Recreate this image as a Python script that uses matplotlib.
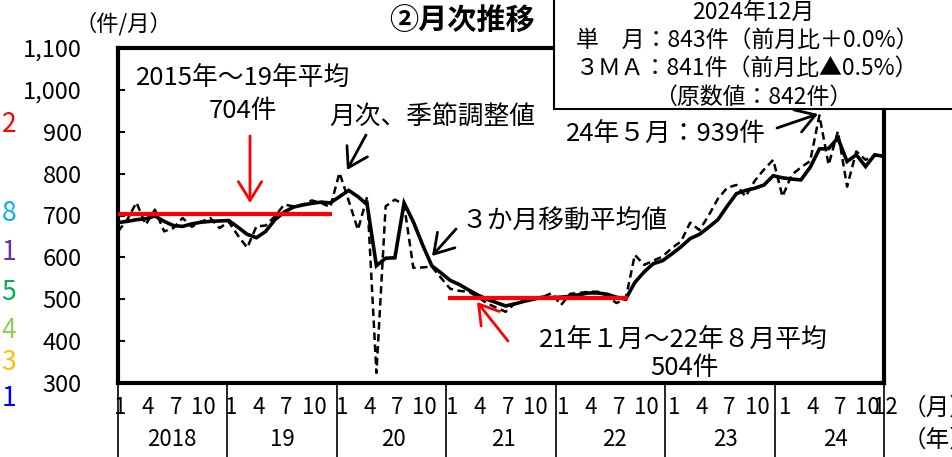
import numpy as np
import matplotlib
matplotlib.use('Agg')
import matplotlib.pyplot as plt
from matplotlib.patches import Rectangle
from matplotlib.lines import Line2D

plt.rcParams['font.family'] = ['Noto Sans CJK JP', 'DejaVu Sans']

W, H = 952, 457

# ---- data (Jan 2018 .. Dec 2024) ----
monthly = [
    662, 690, 731, 678, 714, 662, 670, 694, 673, 685, 694, 670,   # 2018
    685, 652, 623, 674, 676, 698, 726, 722, 726, 736, 730, 720,   # 2019
    802, 735, 666, 745, 324, 722, 738, 726, 575, 576, 578, 551,   # 2020
    525, 520, 518, 505, 490, 480, 470, 490, 495, 500, 505, 515,   # 2021
    486, 513, 515, 518, 518, 508, 491, 500, 606, 582, 592, 602,   # 2022
    622, 638, 683, 665, 700, 740, 766, 773, 745, 783, 810, 833,   # 2023
    745, 797, 815, 830, 939, 821, 901, 769, 853, 833, 843, 843,   # 2024
]
ma3 = [
    683, 686, 690, 692, 699, 686, 676, 674, 680, 684, 686, 687,   # 2018
    688, 672, 655, 647, 662, 690, 708, 720, 725, 729, 732, 730,   # 2019
    745, 760, 745, 726, 580, 598, 599, 730, 685, 630, 580, 563,   # 2020
    545, 535, 522, 510, 500, 492, 484, 489, 495, 500, 505, 504,   # 2021
    505, 507, 511, 515, 515, 512, 505, 500, 540, 565, 585, 592,   # 2022
    608, 625, 645, 655, 672, 690, 722, 752, 760, 765, 773, 795,   # 2023
    790, 787, 785, 815, 859, 860, 885, 829, 845, 817, 845, 841,   # 2024
]
years = ['2018', '19', '20', '21', '22', '23', '24']
month_ticks = ['1', '4', '7', '10']
avg_1519 = 704
avg_1519_range = (0, 23)
avg_2122 = 504
avg_2122_range = (36, 55)
yticks = [300, 400, 500, 600, 700, 800, 900, 1000, 1100]
ytick_labels = ['300', '400', '500', '600', '700', '800', '900', '1,000', '1,100']
side_digits = ['2', '8', '1', '5', '4', '3', '1']
side_colors = ['#FF0000', '#00B0F0', '#7030A0', '#00B050', '#92D050', '#FFC000', '#0000FF']

fig = plt.figure(figsize=(W / 100, H / 100), dpi=100)
ax = fig.add_axes([118 / W, 1 - 383 / H, 766 / W, 335 / H])

x = np.arange(len(monthly))
ax.plot(x, ma3, color='black', lw=2.6, zorder=3, solid_joinstyle='miter')
ax.plot(x, monthly, color='black', lw=1.8, ls=(0, (3, 1.8)), zorder=4)
ax.plot(list(avg_1519_range), [avg_1519] * 2, color='#FF0000', lw=3, zorder=5)
ax.plot(list(avg_2122_range), [avg_2122] * 2, color='#FF0000', lw=3, zorder=5)

ax.set_xlim(0, len(monthly) - 1)
ax.set_ylim(300, 1100)
ax.set_xticks([])
ax.set_yticks(yticks)
ax.set_yticklabels(ytick_labels, fontsize=17)
ax.tick_params(axis='y', direction='in', length=5, width=1.5, pad=26)
for s in ax.spines.values():
    s.set_linewidth(3)

# x-axis category labels
trans = ax.get_xaxis_transform()
ym = -(408 - 383) / 335
yy = -(440 - 383) / 335
xfs = 16
for k, yr in enumerate(years):
    for m in month_ticks:
        idx = 12 * k + int(m) - 1
        ax.text(idx + 0.25, ym, m, transform=trans, ha='center', va='center', fontsize=xfs, clip_on=False)
    ax.text(12 * k + 5.8, yy, yr, transform=trans, ha='center', va='center', fontsize=xfs, clip_on=False)
ax.text(len(monthly) - 1 + 0.2, ym, '12', transform=trans, ha='center', va='center', fontsize=xfs, clip_on=False)
for k in range(len(years) + 1):
    ax.add_line(Line2D([k / len(years)] * 2, [0, -(457 - 383) / 335], transform=ax.transAxes,
                       color='black', lw=1.2, clip_on=False))


def fx(px):
    return px / W


def fy(py):
    return 1 - py / H


fig.text(fx(903), fy(408), '（月）', fontsize=17, ha='left', va='center')
fig.text(fx(903), fy(440), '（年）', fontsize=17, ha='left', va='center')
fig.text(fx(123), fy(24), '（件/月）', fontsize=16, ha='center', va='center')
fig.text(fx(462), fy(20), '②月次推移', fontsize=21, fontweight='bold', ha='center', va='center')

side_y = [125, 213, 252, 293, 330, 362, 398]
for d, c, py in zip(side_digits, side_colors, side_y):
    fig.text(fx(9), fy(py), d, color=c, fontsize=19, ha='center', va='center')

# info box
rect = Rectangle((fx(554), fy(109)), (965 - 554) / W, 130 / H, transform=fig.transFigure,
                 facecolor='white', edgecolor='black', lw=1.5, zorder=10, clip_on=False)
fig.add_artist(rect)
box_lines = [
    (753, 12, '2024年12月'),
    (747, 40, '単　月：843件（前月比＋0.0%）'),
    (747, 68, '３ＭＡ：841件（前月比▲0.5%）'),
    (753, 97, '（原数値：842件）'),
]
for px, py, t in box_lines:
    fig.text(fx(px), fy(py), t, fontsize=16.5, ha='center', va='center', zorder=11)

# annotations
fs = 18.5
fig.text(fx(243), fy(78), '2015年～19年平均', fontsize=fs, ha='center', va='center')
fig.text(fx(243), fy(111), '704件', fontsize=fs, ha='center', va='center')
fig.text(fx(432), fy(118), '月次、季節調整値', fontsize=fs, ha='center', va='center')
fig.text(fx(564), fy(222), '３か月移動平均値', fontsize=fs, ha='center', va='center')
fig.text(fx(683), fy(340), '21年１月～22年８月平均', fontsize=fs, ha='center', va='center')
fig.text(fx(685), fy(368), '504件', fontsize=fs, ha='center', va='center')
fig.text(fx(666), fy(134), '24年５月：939件', fontsize=fs, ha='center', va='center')


def arrow(x1, y1, x2, y2, color):
    ax.annotate('', xy=(x2, H - y2), xytext=(x1, H - y1), xycoords='figure pixels',
                textcoords='figure pixels',
                arrowprops=dict(arrowstyle='->,head_length=0.45,head_width=0.28', color=color,
                                lw=2, mutation_scale=30, shrinkA=0, shrinkB=0),
                annotation_clip=False, zorder=6)


arrow(250, 136, 250, 203, '#FF0000')
arrow(366, 135, 347, 170, 'black')
arrow(456, 229, 432, 256, 'black')
arrow(508, 341, 477, 302, '#FF0000')
arrow(777, 128, 818, 114, 'black')

fig.savefig('out.png', dpi=100)
